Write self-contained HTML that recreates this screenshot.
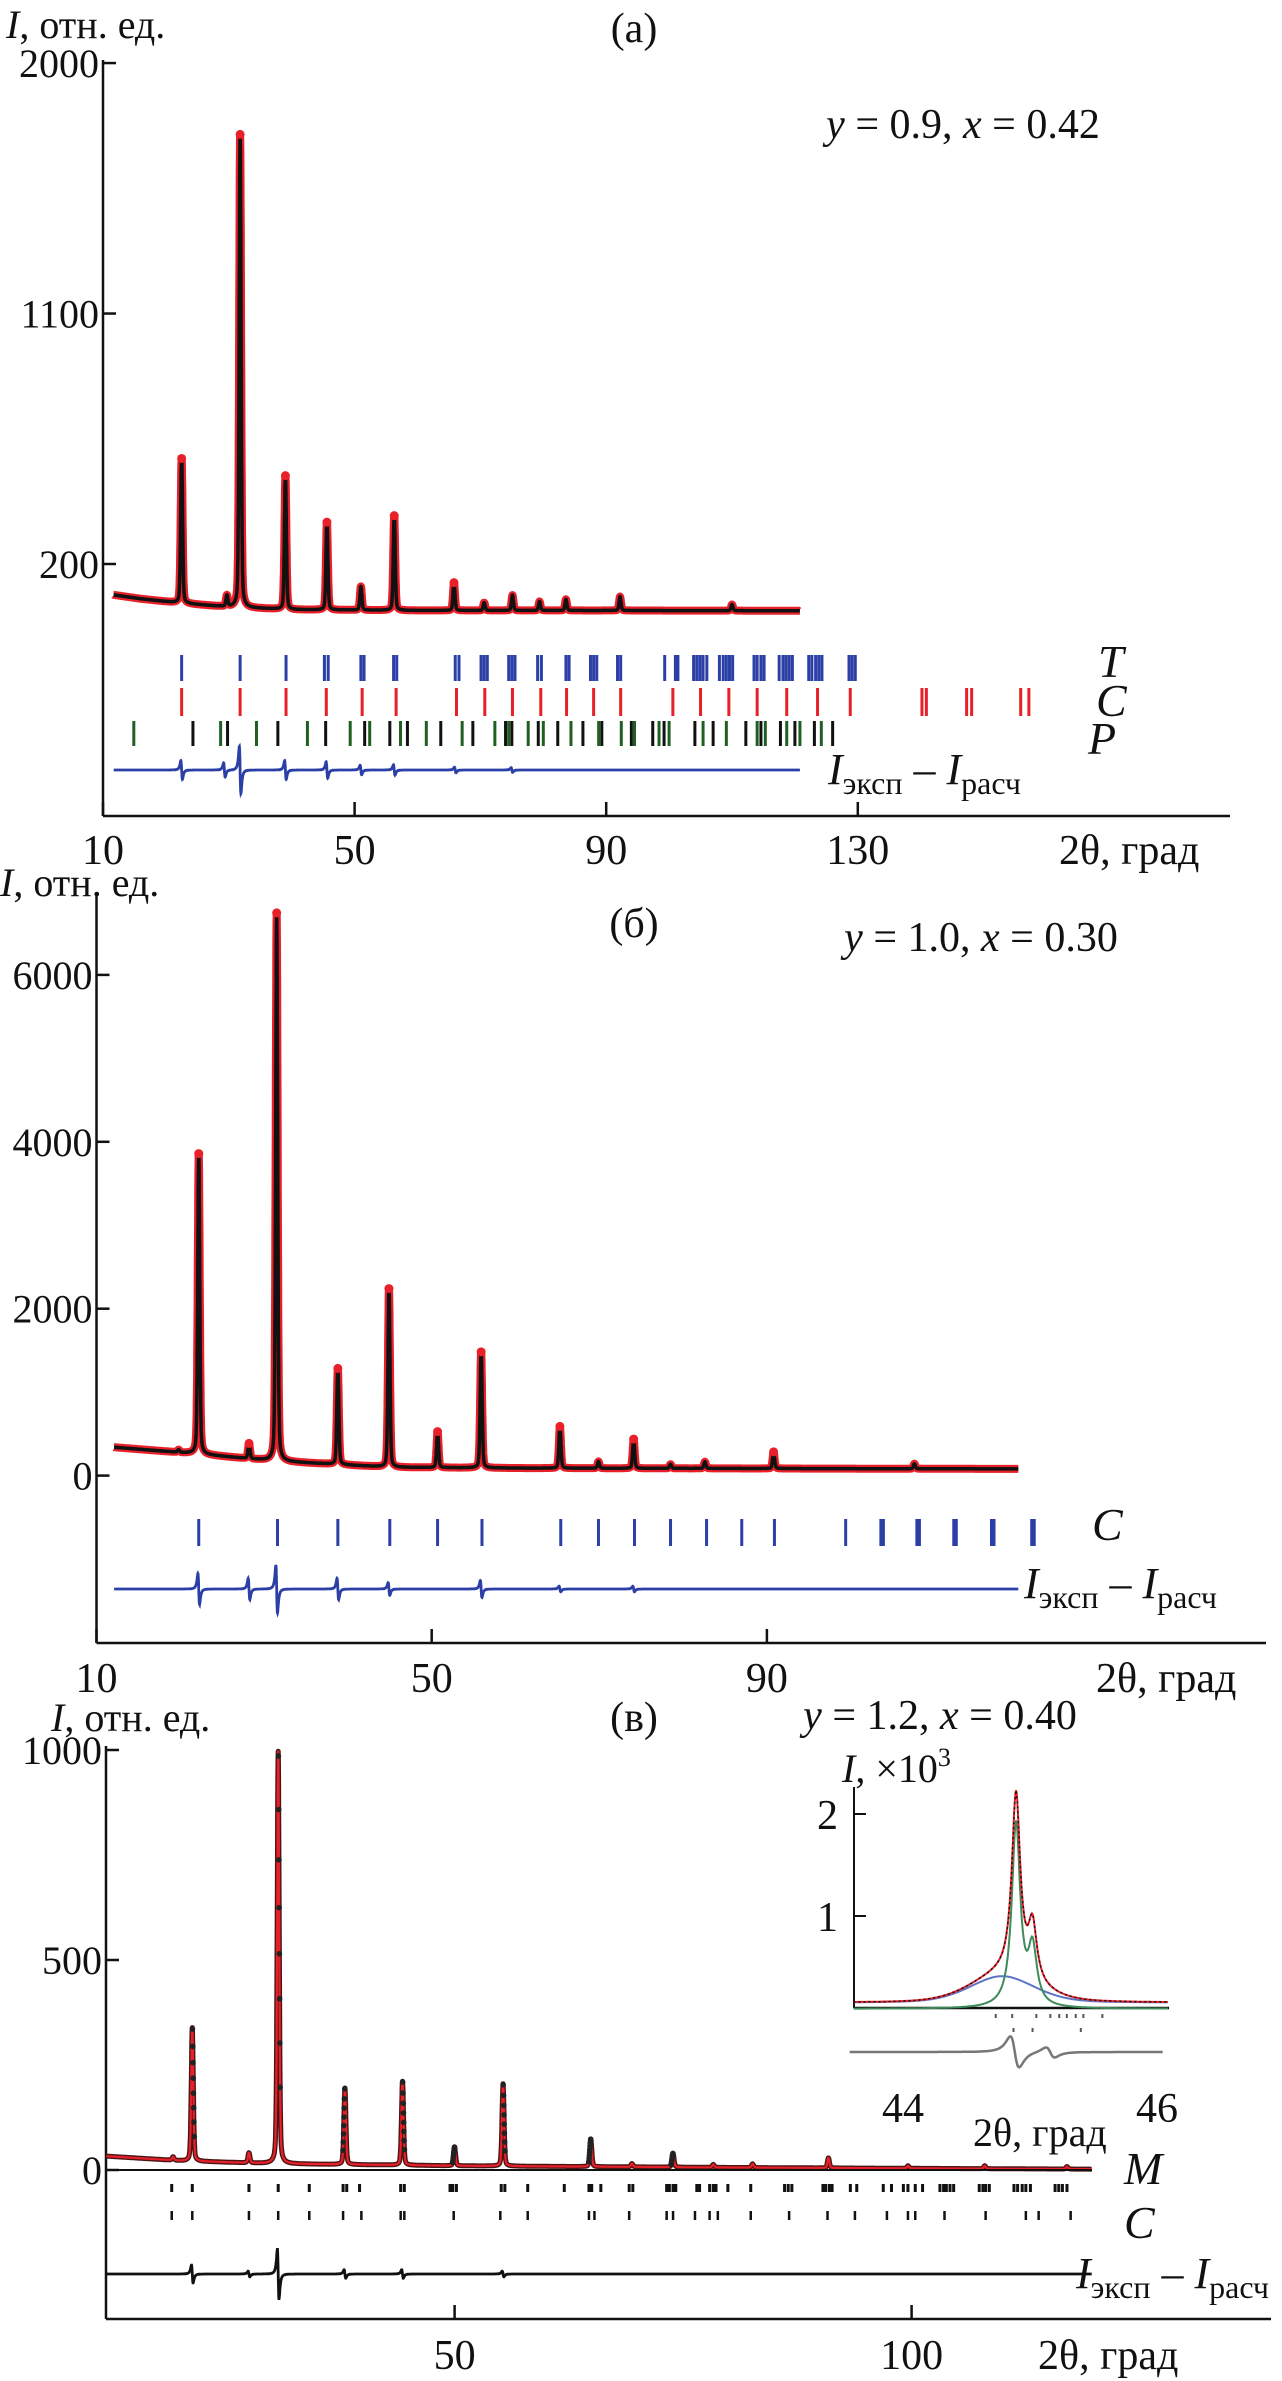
<!DOCTYPE html>
<html><head><meta charset="utf-8"><style>
html,body{margin:0;padding:0;background:#fff;}
svg{display:block;}
svg text{font-family:"Liberation Serif","DejaVu Serif",serif;fill:#111;}
</style></head><body>
<svg id="fig" width="1282" height="2381" viewBox="0 0 1282 2381" font-family="Liberation Serif, DejaVu Serif, serif" xmlns="http://www.w3.org/2000/svg">
<rect x="0" y="0" width="1282" height="2381" fill="#fff"/>
<g id="layer"></g>
</svg>
<script>
// ---------- Panel (a) data ----------
const aPeakPos = [22.5, 29.7, 31.8, 39.0, 45.6, 51.0, 56.3, 65.8, 70.6, 75.1, 79.4, 83.6, 92.2, 110.0];
const aPeakHt  = [520, 40, 1700, 480, 315, 85, 340, 100, 28, 55, 32, 40, 50, 22];
const aBgX = [11.7, 16, 22, 30, 40, 60, 90, 120.8];
const aBgY = [89, 75, 60, 45, 36, 33, 33, 32];
const aYTicks = [200, 1100, 2000];
const aXTicks = [10, 50, 90, 130];
const aTickT = [22.5,31.8,39.1,45.2,45.8,51.0,51.5,56.2,56.7,66.0,66.6,70.1,70.6,71.1,74.5,75.0,75.5,79.1,79.7,83.6,84.1,87.5,88.0,88.5,91.8,92.3,99.3,101.0,101.4,103.9,104.4,104.9,105.4,106.0,108.0,108.6,109.1,109.6,110.1,113.5,114.0,114.6,115.1,117.5,118.1,118.6,119.1,119.6,122.2,122.7,123.3,123.8,124.3,128.6,129.1,129.6];
const aTickC = [22.5,31.8,39.1,45.5,51.2,56.6,66.2,70.7,75.1,79.6,83.7,88.0,92.3,100.6,105.0,109.5,114.0,118.7,123.6,128.8,140.2,140.9,147.3,148.1,155.9,157.2];
const aTickP = [14.9,24.3,28.7,29.8,34.4,37.8,42.5,45.4,49.3,51.6,52.4,55.6,57.3,58.4,61.4,63.7,67.1,68.8,72.3,74.0,74.5,75.0,77.6,79.2,80.0,82.3,84.4,86.3,88.8,89.3,92.4,94.0,94.5,97.4,98.4,99.2,100.0,104.1,105.4,107.0,109.1,112.2,114.0,114.6,115.3,117.7,118.7,120.0,120.8,123.1,124.2,126.0];
const aDiffPos = [22.5, 29.3, 31.8, 39.0, 45.6, 51.0, 56.3, 66.0, 75.0];
const aDiffAmp = [40, 30, 100, 40, 35, 20, 22, 12, 10];

// ---------- Panel (б) data ----------
const bPeakPos = [19.8, 22.2, 28.2, 31.5, 38.8, 44.9, 50.7, 55.9, 65.3, 69.9, 74.1, 78.5, 82.6, 90.8, 107.6];
const bPeakHt  = [30, 3600, 180, 6570, 1150, 2140, 430, 1390, 500, 80, 350, 50, 80, 200, 60];
const bBgX = [12.1, 22, 31, 45, 60, 90, 120];
const bBgY = [340, 260, 175, 100, 90, 85, 80];
const bYTicks = [0, 2000, 4000, 6000];
const bXTicks = [10, 50, 90];
const bTickC = [22.2,31.6,38.8,45.0,50.7,56.0,65.4,69.9,74.2,78.5,82.8,87.0,90.9,99.4,103.6,103.9,107.9,108.2,112.3,112.6,116.8,117.1,121.6,121.9];
const bDiffPos = [22.2, 28.2, 31.5, 38.8, 44.9, 55.9, 65.3, 74.1];
const bDiffAmp = [220, 150, 340, 150, 90, 120, 40, 40];

// ---------- Panel (в) data ----------
const cPeakPos = [19.2, 21.3, 27.5, 30.7, 38.0, 44.3, 50.0, 55.3, 64.9, 69.4, 73.9, 78.3, 82.6, 90.9, 99.6, 108.0, 117.0];
const cPeakHt  = [8, 318, 24, 982, 182, 200, 45, 196, 66, 8, 33, 7, 9, 24, 6, 7, 6];
const cBgX = [11.9, 20, 30, 50, 80, 119.7];
const cBgY = [33, 22, 15, 10, 6, 2];
const cYTicks = [0, 500, 1000];
const cXTicks = [50, 100];
const cTickM = [19.05,21.3,27.5,30.7,34.1,37.8,38.2,39.6,44.1,44.5,49.5,49.8,50.2,55.1,55.5,58.0,62.0,64.7,65.0,66.0,69.1,69.5,73.2,73.5,73.9,74.2,76.5,76.8,77.9,78.3,78.6,79.9,82.4,86.1,86.5,86.9,90.3,90.6,91.0,91.3,93.3,94.0,96.9,97.8,99.1,99.6,100.4,101.2,103.1,103.5,103.8,104.2,104.6,107.4,107.8,108.1,108.5,111.2,111.6,112.1,112.5,113.0,115.7,116.1,116.5,117.0];
const cTickC = [19.05,21.3,27.5,30.7,34.1,37.8,39.8,44.1,44.5,49.9,55.0,58.0,64.7,65.3,69.1,73.2,73.9,76.3,77.9,78.8,82.4,86.6,90.8,93.8,97.3,99.6,100.4,103.6,108.1,112.5,113.9,117.4];
const cDiffPos = [21.3, 27.5, 30.7, 38.0, 44.3, 55.3];
const cDiffAmp = [25, 8, 70, 12, 12, 8];

// ---------- Inset data ----------
const iSharpPos = [44.89, 45.02];
const iSharpHt  = [1.80, 0.55];
const iBroadPos = [44.78];
const iBroadHt  = [0.26];
const iBase = 0.15;
const iYTicks = [1, 2];
const iXTicks = [44, 46];
const iTicksRow1 = [44.73,44.86,45.05,45.16,45.23,45.29,45.36,45.42,45.57];
const iTicksRow2 = [44.87,45.02,45.40];
const iDiffPos = [44.88, 45.16];
const iDiffAmp = [0.18, 0.06];

// ---------- helpers ----------
const NS = "http://www.w3.org/2000/svg";
const layer = document.getElementById('layer');
function mk(tag, attrs, parent){ const e=document.createElementNS(NS,tag); for(const k in attrs) e.setAttribute(k,attrs[k]); (parent||layer).appendChild(e); return e; }
function interp(xs, ys, x){ if(x<=xs[0]) return ys[0]; for(let i=1;i<xs.length;i++){ if(x<=xs[i]){ const t=(x-xs[i-1])/(xs[i]-xs[i-1]); return ys[i-1]+t*(ys[i]-ys[i-1]); } } return ys[ys.length-1]; }
function prof(x, pos, ht, w){ let s=0; for(let i=0;i<pos.length;i++){ const d=(x-pos[i])/w; s+=ht[i]*(0.3/(1+d*d)+0.7*Math.exp(-0.693*d*d)); } return s; }
function lor(x, pos, ht, w){ let s=0; for(let i=0;i<pos.length;i++){ const d=(x-pos[i])/w; s+=ht[i]/(1+d*d); } return s; }
function disp(x, pos, amp, w){ let s=0; for(let i=0;i<pos.length;i++){ const d=(x-pos[i])/w; s+=amp[i]*(-2*d)/(1+d*d)/(1+d*d)*1.3; } return s; }
function pathFrom(pts){ return pts.map((p,i)=>(i?'L':'M')+p[0].toFixed(1)+' '+p[1].toFixed(1)).join(' '); }
function txt(x,y,s,size,opts,parent){ const t=mk('text',Object.assign({x:x,y:y,'font-size':size,'font-family':'Liberation Serif, DejaVu Serif, serif'},opts||{}),parent); t.innerHTML=s; return t; }

function panel(cfg){
  const g = mk('g',{});
  
  
  const X=cfg.X, Y=cfg.Y;
  const ya = mk('line',{x1:cfg.ax,y1:cfg.axTop,x2:cfg.ax,y2:cfg.axBot,stroke:'#111','stroke-width':2.5},g);
   
  const xa = mk('line',{x1:cfg.ax,y1:cfg.axBot,x2:cfg.axRight,y2:cfg.axBot,stroke:'#111','stroke-width':2.5},g);
   
  cfg.yTicks.forEach(v=>{
    const y=Y(v);
    mk('line',{x1:cfg.ax,y1:y,x2:cfg.ax+13,y2:y,stroke:'#111','stroke-width':2.5},g);
    const t=txt(cfg.ax-4,y+14,String(v),40,{'text-anchor':'end'},g);
     
  });
  cfg.xTicks.forEach(v=>{
    const x=X(v);
    mk('line',{x1:x,y1:cfg.axBot,x2:x,y2:cfg.axBot-14,stroke:'#111','stroke-width':2.5},g);
    const t=txt(x,cfg.xLabY,String(v),42,{'text-anchor':'middle'},g);
     
  });
  const pts=[];
  for(let t=cfg.x0;t<=cfg.x1+1e-9;t+=0.02){
    const v=interp(cfg.bgX,cfg.bgY,t)+prof(t,cfg.pos,cfg.ht,cfg.w);
    pts.push([X(t),Y(v)]);
  }
  const d=pathFrom(pts);
  if(cfg.style==='ab'){
    const r=mk('path',{d:d,fill:'none',stroke:'#e8202a','stroke-width':8,'stroke-linejoin':'round'},g);
     
    const k=mk('path',{d:d,fill:'none',stroke:'#111','stroke-width':3.5,'stroke-linejoin':'round'},g);
     
    cfg.pos.forEach((p,i)=>{ if(cfg.ht[i]<100) return; const v=interp(cfg.bgX,cfg.bgY,p)+prof(p,cfg.pos,cfg.ht,cfg.w);
      const c=mk('circle',{cx:X(p),cy:Y(v),r:4.5,fill:'#e8202a'},g);
        });
  } else {
    const k=mk('path',{d:d,fill:'none',stroke:'#4a1515','stroke-width':5,'stroke-linejoin':'round'},g);
     
    const r=mk('path',{d:d,fill:'none',stroke:'#e8202a','stroke-width':2.2,'stroke-linejoin':'round'},g);
     
    cfg.pos.forEach((p,i)=>{ if(cfg.ht[i]<30) return;
      for(let f=0.15;f<=1.0;f+=0.12){ const dx=cfg.w*Math.sqrt(-Math.log(f)/0.693)*(i%2?1:-1);
        const v=interp(cfg.bgX,cfg.bgY,p+dx)+prof(p+dx,cfg.pos,cfg.ht,cfg.w);
        const c=mk('circle',{cx:X(p+dx),cy:Y(v),r:2.8,fill:'#222'},g);
          }
    });
  }
  cfg.rows.forEach(row=>{
    row.vals.forEach((v,i)=>{
      const col = Array.isArray(row.color)? row.color[i%row.color.length] : row.color;
      const l=mk('line',{x1:X(v),y1:row.y1,x2:X(v),y2:row.y2,stroke:col,'stroke-width':row.sw||3},g);
       
    });
    const t=txt(row.lx,row.ly,row.label,46,{'font-style':'italic'},g);
     
  });
  const dp=[];
  for(let t=cfg.x0;t<=cfg.x1+1e-9;t+=0.02){ dp.push([X(t), cfg.diffY - disp(t,cfg.dPos,cfg.dAmp,cfg.w*1.2)*cfg.dScale]); }
  const dl=mk('path',{d:pathFrom(dp),fill:'none',stroke:cfg.diffColor,'stroke-width':2.8},g);
   
  const dlab=txt(cfg.dlx,cfg.dly,'<tspan font-style="italic">I</tspan><tspan font-size="32" dy="10">эксп</tspan><tspan dy="-10"> – </tspan><tspan font-style="italic">I</tspan><tspan font-size="32" dy="10">расч</tspan>',44,{},g);
   
  const yl=txt(cfg.ylx,cfg.yly,'<tspan font-style="italic">I</tspan>, отн. ед.',40,{},g);
   
  const pl=txt(634,cfg.ply,cfg.plabel,42,{'text-anchor':'middle'},g);
   
  const cl=txt(cfg.clx,cfg.cly,cfg.comp,42,{'text-anchor':'middle'},g);
   
  const xt=txt(cfg.xtx,cfg.xLabY,'2θ, град',42,{},g);
   
}

panel({name:'panel-a', X:t=>103+(t-10)*6.29, Y:v=>564-(v-200)*0.2783,
  ax:103, axTop:60, axBot:816, axRight:1230, xLabY:864, yTicks:aYTicks, xTicks:aXTicks,
  x0:11.7, x1:120.8, pos:aPeakPos, ht:aPeakHt, w:0.18, bgX:aBgX, bgY:aBgY, style:'ab',
  rows:[{vals:aTickT,y1:655,y2:681,color:'#2b3fa6',name:'tick-T',label:'T',lx:1098,ly:677},
        {vals:aTickC,y1:688,y2:716,color:'#e8202a',name:'tick-C',label:'C',lx:1096,ly:716},
        {vals:aTickP,y1:721,y2:746,color:['#1f5f22','#111'],name:'tick-P',label:'P',lx:1088,ly:754}],
  diffY:770, dPos:aDiffPos, dAmp:aDiffAmp, dScale:0.2783, diffColor:'#2b3fa6', dlx:828, dly:784,
  ylx:6, yly:38, ply:42, plabel:'(a)', clx:963, cly:138,
  comp:'<tspan font-style="italic">y</tspan> = 0.9, <tspan font-style="italic">x</tspan> = 0.42', xtx:1059});
panel({name:'panel-b', X:t=>96.5+(t-10)*8.38, Y:v=>1475.6-v*0.08345,
  ax:96.5, axTop:896, axBot:1643, axRight:1266, xLabY:1692, yTicks:bYTicks, xTicks:bXTicks,
  x0:12.1, x1:120, pos:bPeakPos, ht:bPeakHt, w:0.14, bgX:bBgX, bgY:bBgY, style:'ab',
  rows:[{vals:bTickC,y1:1519,y2:1546,color:'#2b3fa6',name:'tick-C',label:'C',lx:1092,ly:1540}],
  diffY:1589, dPos:bDiffPos, dAmp:bDiffAmp, dScale:0.08345, diffColor:'#2b3fa6', dlx:1024, dly:1598,
  ylx:0, yly:896, ply:937, plabel:'(б)', clx:981, cly:951,
  comp:'<tspan font-style="italic">y</tspan> = 1.0, <tspan font-style="italic">x</tspan> = 0.30', xtx:1096});
panel({name:'panel-c', X:t=>454.6+(t-50)*9.14, Y:v=>2170-v*0.42,
  ax:106, axTop:1746, axBot:2319, axRight:1271, xLabY:2369, yTicks:cYTicks, xTicks:cXTicks,
  x0:11.9, x1:119.7, pos:cPeakPos, ht:cPeakHt, w:0.13, bgX:cBgX, bgY:cBgY, style:'c',
  rows:[{vals:cTickM,y1:2184,y2:2192,color:'#111',name:'tick-M',label:'M',lx:1124,ly:2184,sw:3},
        {vals:cTickC,y1:2211,y2:2220,color:'#111',name:'tick-C',label:'C',lx:1124,ly:2238,sw:2.5}],
  diffY:2274, dPos:cDiffPos, dAmp:cDiffAmp, dScale:0.42, diffColor:'#111', dlx:1076, dly:2288,
  ylx:51, yly:1731, ply:1731, plabel:'(в)', clx:940, cly:1729,
  comp:'<tspan font-style="italic">y</tspan> = 1.2, <tspan font-style="italic">x</tspan> = 0.40', xtx:1038});
(function(){ const l=mk('line',{x1:106,y1:2170,x2:1092,y2:2170,stroke:'#111','stroke-width':2});
    })();

(function(){
  const g=mk('g',{});
   
  const X=t=>903+(t-44)*127, Y=v=>2018-v*102;
  const ya=mk('line',{x1:854,y1:1787,x2:854,y2:2008,stroke:'#111','stroke-width':2},g);
   
  const xa=mk('line',{x1:854,y1:2008,x2:1169,y2:2008,stroke:'#111','stroke-width':2.5},g);
   
  iYTicks.forEach(v=>{ mk('line',{x1:854,y1:Y(v),x2:866,y2:Y(v),stroke:'#111','stroke-width':2},g);
    const t=txt(838,Y(v)+15,String(v),42,{'text-anchor':'end'},g);
      });
  iXTicks.forEach(v=>{ const t=txt(X(v),2122,String(v),42,{'text-anchor':'middle'},g);
      });
  const x0=43.61, x1=46.09;
  const sharp=[], broad=[], tot=[];
  for(let t=x0;t<=x1;t+=0.005){
    const s=lor(t,iSharpPos,iSharpHt,0.04), b=prof(t,iBroadPos,iBroadHt,0.3);
    sharp.push([X(t),Y(iBase*0.6+s)]); broad.push([X(t),Y(iBase+b)]); tot.push([X(t),Y(iBase+s+b)]);
  }
  const bl=mk('path',{d:pathFrom(broad),fill:'none',stroke:'#5b74c8','stroke-width':2},g);
   
  const gl=mk('path',{d:pathFrom(sharp),fill:'none',stroke:'#3f8a5a','stroke-width':2},g);
   
  const rl=mk('path',{d:pathFrom(tot),fill:'none',stroke:'#e8202a','stroke-width':2},g);
   
  const kl=mk('path',{d:pathFrom(tot.filter((p,i)=>i%2===0)),fill:'none',stroke:'#111','stroke-width':1.5,'stroke-dasharray':'2 3'},g);
   
  iTicksRow1.forEach(v=>{ const l=mk('line',{x1:X(v),y1:2014,x2:X(v),y2:2018,stroke:'#555','stroke-width':2},g);
      });
  iTicksRow2.forEach(v=>{ const l=mk('line',{x1:X(v),y1:2028,x2:X(v),y2:2032,stroke:'#555','stroke-width':2},g);
      });
  const dp=[]; for(let t=43.58;t<=46.05;t+=0.005){ dp.push([X(t),2052-disp(t,iDiffPos,iDiffAmp,0.06)*102]); }
  const dl=mk('path',{d:pathFrom(dp),fill:'none',stroke:'#777','stroke-width':2.5},g);
   
  const yt=txt(842,1782,'<tspan font-style="italic">I</tspan>, ×10<tspan font-size="26" dy="-16">3</tspan>',40,{},g);
   
  const xt=txt(973,2146,'2θ, град',40,{},g);
   
})();
</script>
</body></html>
